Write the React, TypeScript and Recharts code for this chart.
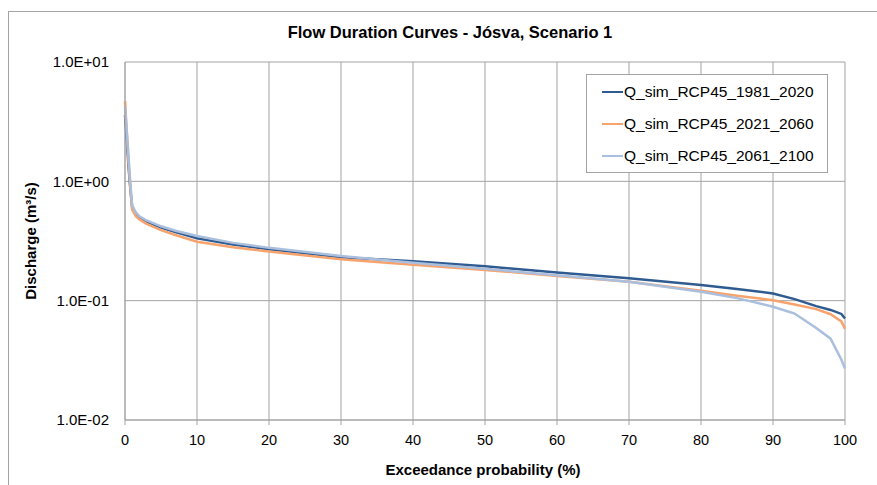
import React from "react";
import { LineChart, Line, XAxis, YAxis, CartesianGrid, Legend } from "recharts";

// exceedance probability (%)
const exceedance = [0, 0.25, 0.5, 0.75, 1, 1.5, 2, 3, 5, 7, 10, 15, 20, 30, 40, 50, 60, 70, 80, 85, 90, 93, 96, 98, 99.5, 100];

// discharge (m3/s)
const q1981_2020 = [3.6, 2.2, 1.3, 0.85, 0.6, 0.53, 0.5, 0.46, 0.41, 0.375, 0.333, 0.295, 0.27, 0.231, 0.214, 0.194, 0.172, 0.154, 0.1355, 0.125, 0.115, 0.103, 0.09, 0.0836, 0.0774, 0.071];
const q2021_2060 = [4.7, 2.6, 1.4, 0.85, 0.58, 0.51, 0.48, 0.44, 0.39, 0.355, 0.312, 0.28, 0.258, 0.222, 0.2, 0.181, 0.161, 0.144, 0.121, 0.11, 0.101, 0.093, 0.085, 0.077, 0.067, 0.058];
const q2061_2100 = [4.2, 2.6, 1.6, 0.95, 0.63, 0.55, 0.51, 0.47, 0.42, 0.385, 0.348, 0.305, 0.277, 0.237, 0.208, 0.185, 0.163, 0.144, 0.119, 0.105, 0.089, 0.078, 0.059, 0.048, 0.032, 0.027];

const xTicks = [0, 10, 20, 30, 40, 50, 60, 70, 80, 90, 100];
const yTicks = [0.01, 0.1, 1, 10];

const series = [
  { key: "a", label: "Q_sim_RCP45_1981_2020", color: "#2F5B91", values: q1981_2020 },
  { key: "b", label: "Q_sim_RCP45_2021_2060", color: "#F7A36E", values: q2021_2060 },
  { key: "c", label: "Q_sim_RCP45_2061_2100", color: "#AABFDD", values: q2061_2100 },
];

const data = exceedance.map((p, i) => {
  const row: Record<string, number> = { p };
  series.forEach((s) => (row[s.key] = s.values[i]));
  return row;
});

const font = "'Liberation Sans', Arial, sans-serif";
const gridColor = "#a3a3a3";

function sci(v: number) {
  const e = Math.round(Math.log10(v));
  const m = v / Math.pow(10, e);
  const sign = e < 0 ? "-" : "+";
  return `${m.toFixed(1)}E${sign}${String(Math.abs(e)).padStart(2, "0")}`;
}

function LegendBox() {
  return (
    <div
      style={{
        width: 240,
        height: 96,
        border: `1px solid ${gridColor}`,
        background: "#fff",
        paddingTop: 1,
        fontFamily: font,
        fontSize: 15.5,
        color: "#000",
      }}
    >
      {series.map((s) => (
        <div key={s.key} style={{ height: 32, display: "flex", alignItems: "center", paddingLeft: 15 }}>
          <div style={{ width: 21, height: 2.5, background: s.color, marginRight: 1 }} />
          <span>{s.label}</span>
        </div>
      ))}
    </div>
  );
}

export default function App() {
  return (
    <>
      <style>{`body{margin:0;overflow:hidden;background:#fff}`}</style>
      <div
        style={{
          position: "absolute",
          left: 8,
          top: 11,
          width: 868,
          height: 473,
          borderLeft: `1px solid ${gridColor}`,
          borderTop: `1px solid ${gridColor}`,
          background: "#fff",
        }}
      >
        <div
          style={{
            position: "absolute",
            left: 241,
            top: 10,
            width: 400,
            lineHeight: "20px",
            textAlign: "center",
            fontFamily: font,
            fontWeight: "bold",
            fontSize: 16.5,
            color: "#000",
          }}
        >
          Flow Duration Curves - Jósva, Scenario 1
        </div>
        <LineChart width={868} height={473} data={data} margin={{ top: 50, right: 32, left: 0, bottom: 0 }}>
          <CartesianGrid stroke={gridColor} strokeWidth={1} />
          <XAxis
            dataKey="p"
            type="number"
            domain={[0, 100]}
            ticks={xTicks}
            interval={0}
            height={65}
            stroke={gridColor}
            tickSize={5}
            tickMargin={10}
            tick={{ fill: "#000", fontSize: 14.5, fontFamily: font }}
            label={{
              content: () => (
                <text x={474} y={457} textAnchor="middle" dominantBaseline="central" fontFamily={font} fontWeight="bold" fontSize={15} fill="#000">
                  Exceedance probability (%)
                </text>
              ),
            }}
          />
          <YAxis
            type="number"
            scale="log"
            domain={[0.01, 10]}
            allowDataOverflow
            ticks={yTicks}
            interval={0}
            width={116}
            stroke={gridColor}
            tickLine={false}
            tickSize={0}
            tickMargin={16}
            tickFormatter={sci}
            tick={{ fill: "#000", fontSize: 15, fontFamily: font }}
            label={{
              content: () => (
                <text x={21} y={229} transform="rotate(-90 21 229)" textAnchor="middle" dominantBaseline="central" fontFamily={font} fontWeight="bold" fontSize={15} fill="#000">
                  Discharge (m³/s)
                </text>
              ),
            }}
          />
          <Legend
            layout="vertical"
            align="center"
            verticalAlign="middle"
            content={() => <LegendBox />}
            wrapperStyle={{ left: 577, top: 62, width: 242, height: 98 }}
          />
          {series.map((s) => (
            <Line
              key={s.key}
              dataKey={s.key}
              name={s.label}
              type="linear"
              stroke={s.color}
              strokeWidth={2.5}
              dot={false}
              isAnimationActive={false}
            />
          ))}
        </LineChart>
      </div>
    </>
  );
}
